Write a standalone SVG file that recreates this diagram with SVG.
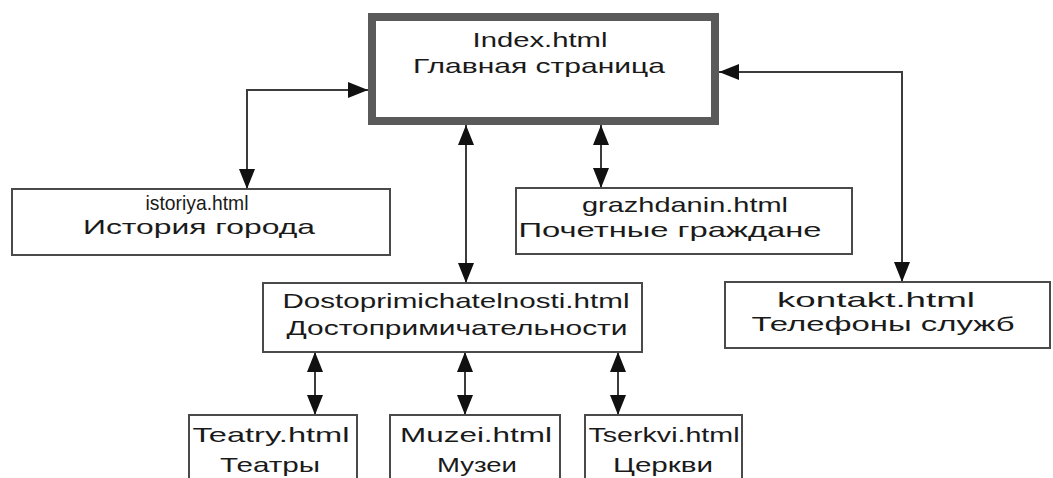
<svg xmlns="http://www.w3.org/2000/svg" width="1053" height="478" viewBox="0 0 1053 478">
<style>
.bg{fill:#ffffff}
.box{fill:#ffffff;stroke:#4a4a4a;stroke-width:2}
.main{fill:#ffffff;stroke:#5a5a5a;stroke-width:8}
.t{font-family:"Liberation Sans",Arial,sans-serif;font-size:21px;fill:#1a1a1a;text-anchor:middle}
.c{fill:none;stroke:#3c3c3c;stroke-width:2}
</style>
<defs>
<marker id="ah" viewBox="0 0 20 16" markerUnits="userSpaceOnUse" markerWidth="20" markerHeight="16" refX="20" refY="8" orient="auto-start-reverse">
<path d="M0,0 L20,8 L0,16 z" fill="#111111"/>
</marker>
</defs>
<rect class="bg" x="0" y="0" width="1053" height="478"/>
<g id="connectors">
<path class="c" d="M368,90 H247 V189" marker-start="url(#ah)" marker-end="url(#ah)"/>
<path class="c" d="M719,72 H902 V282" marker-start="url(#ah)" marker-end="url(#ah)"/>
<path class="c" d="M466,125 V283" marker-start="url(#ah)" marker-end="url(#ah)"/>
<path class="c" d="M601,125 V188" marker-start="url(#ah)" marker-end="url(#ah)"/>
<path class="c" d="M315,352 V415" marker-start="url(#ah)" marker-end="url(#ah)"/>
<path class="c" d="M465,352 V415" marker-start="url(#ah)" marker-end="url(#ah)"/>
<path class="c" d="M618,352 V415" marker-start="url(#ah)" marker-end="url(#ah)"/>
</g>
<g id="index">
<rect class="main" x="372" y="17" width="343" height="104"/>
<text class="t" x="540" y="47" textLength="135" lengthAdjust="spacingAndGlyphs">Index.html</text>
<text class="t" x="539" y="73" textLength="252" lengthAdjust="spacingAndGlyphs">Главная страница</text>
</g>
<g id="istoriya">
<rect class="box" x="12" y="189" width="378" height="66"/>
<text class="t" x="197" y="210" textLength="103" lengthAdjust="spacingAndGlyphs">istoriya.html</text>
<text class="t" x="199" y="234" textLength="232" lengthAdjust="spacingAndGlyphs">История города</text>
</g>
<g id="grazhdanin">
<rect class="box" x="516" y="188" width="336" height="66"/>
<text class="t" x="685" y="212" textLength="206" lengthAdjust="spacingAndGlyphs">grazhdanin.html</text>
<text class="t" x="670" y="237" textLength="303" lengthAdjust="spacingAndGlyphs">Почетные граждане</text>
</g>
<g id="dostoprimichatelnosti">
<rect class="box" x="263" y="283" width="379" height="69"/>
<text class="t" x="456" y="308" textLength="347" lengthAdjust="spacingAndGlyphs">Dostoprimichatelnosti.html</text>
<text class="t" x="457" y="335" textLength="341" lengthAdjust="spacingAndGlyphs">Достопримичательности</text>
</g>
<g id="kontakt">
<rect class="box" x="725" y="282" width="325" height="66"/>
<text class="t" x="876" y="307" textLength="198" lengthAdjust="spacingAndGlyphs">kontakt.html</text>
<text class="t" x="883" y="331" textLength="263" lengthAdjust="spacingAndGlyphs">Телефоны служб</text>
</g>
<g id="teatry">
<rect class="box" x="189" y="415" width="168" height="90"/>
<text class="t" x="271" y="442" textLength="157" lengthAdjust="spacingAndGlyphs">Teatry.html</text>
<text class="t" x="270" y="472" textLength="100" lengthAdjust="spacingAndGlyphs">Театры</text>
</g>
<g id="muzei">
<rect class="box" x="390" y="415" width="170" height="90"/>
<text class="t" x="476" y="442" textLength="152" lengthAdjust="spacingAndGlyphs">Muzei.html</text>
<text class="t" x="477" y="472" textLength="80" lengthAdjust="spacingAndGlyphs">Музеи</text>
</g>
<g id="tserkvi">
<rect class="box" x="585" y="415" width="157" height="90"/>
<text class="t" x="664" y="442" textLength="151" lengthAdjust="spacingAndGlyphs">Tserkvi.html</text>
<text class="t" x="663" y="472" textLength="100" lengthAdjust="spacingAndGlyphs">Церкви</text>
</g>
</svg>
